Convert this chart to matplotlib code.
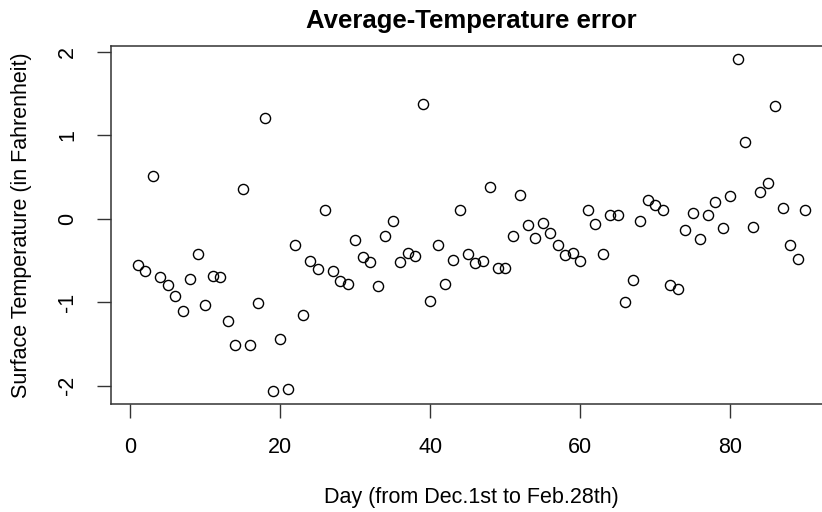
import numpy as np
import matplotlib
matplotlib.use('Agg')
import matplotlib.pyplot as plt

plt.rcParams['font.family'] = ['Liberation Sans', 'DejaVu Sans']

########################################################
# daily error values
days = np.arange(1, 91)
temp_err = [
    -0.55, -0.63, 0.51, -0.70, -0.79, -0.93, -1.11, -0.72, -0.42, -1.03,
    -0.69, -0.70, -1.23, -1.51, 0.36, -1.51, -1.01, 1.21, -2.06, -1.44,
    -2.04, -0.31, -1.15, -0.51, -0.60, 0.10, -0.62, -0.75, -0.78, -0.25,
    -0.46, -0.52, -0.81, -0.21, -0.03, -0.52, -0.41, -0.45, 1.38, -0.99,
    -0.32, -0.78, -0.49, 0.11, -0.42, -0.53, -0.51, 0.38, -0.59, -0.59,
    -0.21, 0.29, -0.08, -0.23, -0.05, -0.17, -0.32, -0.43, -0.41, -0.51,
    0.11, -0.06, -0.42, 0.05, 0.04, -1.00, -0.73, -0.03, 0.23, 0.16,
    0.11, -0.79, -0.84, -0.14, 0.07, -0.24, 0.04, 0.20, -0.11, 0.27,
    1.91, 0.92, -0.10, 0.32, 0.43, 1.35, 0.13, -0.31, -0.48, 0.10,
]
xticks = [0, 20, 40, 60, 80]
yticks = [-2, -1, 0, 1, 2]
title = 'Average-Temperature error'
xlab = 'Day (from Dec.1st to Feb.28th)'
ylab = 'Surface Temperature (in Fahrenheit)'

########################################################
W, H = 822, 512
fig = plt.figure(figsize=(W / 100, H / 100), dpi=100)
# plot box in pixels (right edge runs past the image, as in the reference)
left, right, top, bottom = 111, 832, 46, 404
ax = fig.add_axes([left / W, 1 - bottom / H, (right - left) / W, (bottom - top) / H])

ax.plot(days, temp_err, 'o', ms=7.3, mfc='none', mec='black', mew=1.0, ls='none')

# R-style 4% padding on both axes
def pad(lo, hi, f=0.04):
    d = (hi - lo) * f
    return lo - d, hi + d

ax.set_xlim(*pad(days.min(), days.max()))
ax.set_ylim(*pad(min(temp_err), max(temp_err)))

fs = 15.5
ax.set_xticks(xticks)
ax.set_yticks(yticks)
ax.set_yticklabels([str(v) for v in yticks], rotation=90, va='center')
ax.tick_params(direction='out', length=10, width=1, color='#333333',
               labelsize=fs, pad=13.5)
for sp in ax.spines.values():
    sp.set_linewidth(1.1)
    sp.set_color('#333333')

ax.set_xlabel(xlab, fontsize=fs)
ax.xaxis.set_label_coords(0.5, -(498 - bottom) / (bottom - top))
ax.xaxis.label.set_va('center')
ax.set_ylabel(ylab, fontsize=fs)
ax.yaxis.set_label_coords(-(left - 22) / (right - left), 0.5)
ax.yaxis.label.set_va('center')

ax.text(0.5, 1 + (top - 28) / (bottom - top), title, transform=ax.transAxes,
        ha='center', va='baseline', fontsize=18.5, fontweight='bold')

fig.savefig('out.png', dpi=100)
